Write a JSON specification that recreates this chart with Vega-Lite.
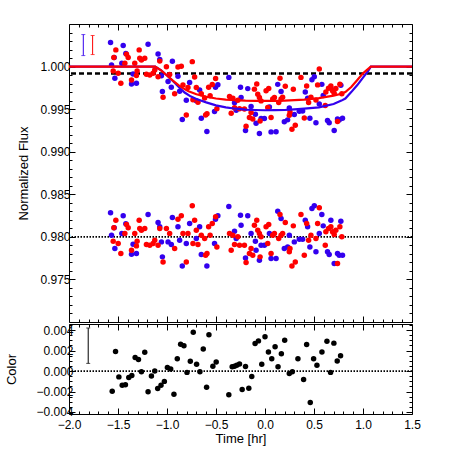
{
  "padding": {"left": 5, "top": 23, "right": 5, "bottom": 5},
  "spacing": 0,
  "config": {
    "view": {"stroke": "black", "strokeWidth": 1},
    "axis": {"grid": false, "domain": false, "tickColor": "black", "labelColor": "black", "titleColor": "black", "labelFont": "Liberation Sans", "titleFont": "Liberation Sans", "labelFontSize": 12, "titleFontSize": 13, "titleFontWeight": "normal", "tickWidth": 1, "labelFlush": false, "labelOverlap": false}
  },
  "datasets": {
    "blue": [
      {"t": -1.576, "f": 1.00282, "r": 0.98282}, {"t": -1.566, "f": 1.0002, "r": 0.9802}, {"t": -1.539, "f": 1.00106, "r": 0.98106}, {"t": -1.532, "f": 0.99863, "r": 0.97863},
      {"t": -1.461, "f": 1.00039, "r": 0.98039}, {"t": -1.447, "f": 1.00247, "r": 0.98247}, {"t": -1.42, "f": 1.00153, "r": 0.98153}, {"t": -1.362, "f": 0.99796, "r": 0.97796},
      {"t": -1.346, "f": 0.99914, "r": 0.97914}, {"t": -1.312, "f": 0.99804, "r": 0.97804}, {"t": -1.193, "f": 1.00263, "r": 0.98263}, {"t": -1.091, "f": 1.00147, "r": 0.98169},
      {"t": -1.074, "f": 1.00084, "r": 0.98118}, {"t": -1.057, "f": 0.99893, "r": 0.97941}, {"t": -1.047, "f": 0.99707, "r": 0.97765}, {"t": -0.989, "f": 0.99825, "r": 0.97941},
      {"t": -0.956, "f": 0.99757, "r": 0.9791}, {"t": -0.945, "f": 1.00063, "r": 0.98227}, {"t": -0.888, "f": 0.99887, "r": 0.98118}, {"t": -0.871, "f": 0.99711, "r": 0.97961},
      {"t": -0.844, "f": 0.99379, "r": 0.97659}, {"t": -0.803, "f": 0.99605, "r": 0.97922}, {"t": -0.769, "f": 0.99812, "r": 0.98157}, {"t": -0.701, "f": 0.996, "r": 0.9798},
      {"t": -0.667, "f": 0.99725, "r": 0.98118}, {"t": -0.65, "f": 0.99392, "r": 0.97792}, {"t": -0.593, "f": 0.99237, "r": 0.97659}, {"t": -0.515, "f": 0.99472, "r": 0.97922},
      {"t": -0.505, "f": 0.99758, "r": 0.98208}, {"t": -0.481, "f": 0.99787, "r": 0.98247}, {"t": -0.369, "f": 0.99873, "r": 0.98357}, {"t": -0.311, "f": 0.99576, "r": 0.98067},
      {"t": -0.294, "f": 0.99487, "r": 0.9798}, {"t": -0.25, "f": 0.99756, "r": 0.98255}, {"t": -0.244, "f": 0.99637, "r": 0.98137}, {"t": -0.199, "f": 0.99248, "r": 0.97753},
      {"t": -0.176, "f": 0.99741, "r": 0.98247}, {"t": -0.142, "f": 0.99532, "r": 0.98039}, {"t": -0.098, "f": 0.9944, "r": 0.97949}, {"t": -0.091, "f": 0.99334, "r": 0.97843},
      {"t": -0.057, "f": 0.99215, "r": 0.97726}, {"t": -0.04, "f": 0.9939, "r": 0.97902}, {"t": -0.006, "f": 0.99389, "r": 0.97902}, {"t": 0.045, "f": 0.99526, "r": 0.98039},
      {"t": 0.062, "f": 0.99233, "r": 0.97745}, {"t": 0.113, "f": 0.99234, "r": 0.97745}, {"t": 0.13, "f": 0.99791, "r": 0.98302}, {"t": 0.164, "f": 0.99706, "r": 0.98216},
      {"t": 0.197, "f": 0.99353, "r": 0.97863}, {"t": 0.231, "f": 0.99374, "r": 0.97882}, {"t": 0.248, "f": 0.99514, "r": 0.9802}, {"t": 0.299, "f": 0.99438, "r": 0.97941},
      {"t": 0.35, "f": 0.99474, "r": 0.97973}, {"t": 0.384, "f": 0.99477, "r": 0.97973}, {"t": 0.411, "f": 0.99702, "r": 0.98196}, {"t": 0.435, "f": 0.99627, "r": 0.98118},
      {"t": 0.458, "f": 0.99393, "r": 0.97882}, {"t": 0.479, "f": 0.99846, "r": 0.98333}, {"t": 0.503, "f": 0.99881, "r": 0.98365}, {"t": 0.52, "f": 0.99341, "r": 0.97824},
      {"t": 0.554, "f": 0.9956, "r": 0.98039}, {"t": 0.58, "f": 0.99791, "r": 0.98263}, {"t": 0.594, "f": 0.99661, "r": 0.98129}, {"t": 0.638, "f": 0.99367, "r": 0.97824},
      {"t": 0.655, "f": 0.9934, "r": 0.97792}, {"t": 0.672, "f": 0.99748, "r": 0.98196}, {"t": 0.706, "f": 0.99249, "r": 0.97686}, {"t": 0.74, "f": 0.99384, "r": 0.97804},
      {"t": 0.757, "f": 0.99372, "r": 0.97784}, {"t": 0.774, "f": 0.99781, "r": 0.98184}, {"t": 0.791, "f": 0.99392, "r": 0.97784}
    ],
    "red": [
      {"t": -1.549, "f": 0.99949, "r": 0.97949}, {"t": -1.542, "f": 1.00106, "r": 0.98106}, {"t": -1.522, "f": 1.00196, "r": 0.98196}, {"t": -1.498, "f": 0.99922, "r": 0.97922},
      {"t": -1.471, "f": 0.99804, "r": 0.97804}, {"t": -1.43, "f": 1.00039, "r": 0.98039}, {"t": -1.413, "f": 1.00145, "r": 0.98145}, {"t": -1.396, "f": 1.00106, "r": 0.98106},
      {"t": -1.362, "f": 0.99843, "r": 0.97843}, {"t": -1.329, "f": 1.00039, "r": 0.98039}, {"t": -1.312, "f": 0.99894, "r": 0.97894}, {"t": -1.305, "f": 0.99949, "r": 0.97949},
      {"t": -1.284, "f": 1.00196, "r": 0.98196}, {"t": -1.278, "f": 1.00098, "r": 0.98098}, {"t": -1.261, "f": 1.00078, "r": 0.98078}, {"t": -1.227, "f": 1.00098, "r": 0.98098},
      {"t": -1.21, "f": 0.9991, "r": 0.9791}, {"t": -1.176, "f": 0.99902, "r": 0.97902}, {"t": -1.142, "f": 0.99922, "r": 0.97922}, {"t": -1.125, "f": 0.99961, "r": 0.97961},
      {"t": -1.091, "f": 0.9988, "r": 0.97902}, {"t": -1.074, "f": 1.00064, "r": 0.98098}, {"t": -1.04, "f": 0.99641, "r": 0.97706}, {"t": -1.006, "f": 0.99999, "r": 0.98098},
      {"t": -0.973, "f": 0.99907, "r": 0.98039}, {"t": -0.922, "f": 0.99681, "r": 0.97863}, {"t": -0.888, "f": 0.99995, "r": 0.98208}, {"t": -0.854, "f": 1.00004, "r": 0.98247},
      {"t": -0.837, "f": 0.99785, "r": 0.98039}, {"t": -0.803, "f": 0.9943, "r": 0.97706}, {"t": -0.786, "f": 0.99753, "r": 0.98039}, {"t": -0.742, "f": 1.00058, "r": 0.98365},
      {"t": -0.735, "f": 0.99611, "r": 0.97922}, {"t": -0.718, "f": 0.99877, "r": 0.98196}, {"t": -0.701, "f": 0.99753, "r": 0.98078}, {"t": -0.684, "f": 0.9958, "r": 0.9791},
      {"t": -0.65, "f": 0.9968, "r": 0.9802}, {"t": -0.616, "f": 0.9963, "r": 0.9798}, {"t": -0.606, "f": 0.99431, "r": 0.97784}, {"t": -0.592, "f": 0.99447, "r": 0.97804},
      {"t": -0.575, "f": 0.99756, "r": 0.98118}, {"t": -0.56, "f": 0.99658, "r": 0.9802}, {"t": -0.538, "f": 0.99789, "r": 0.98157}, {"t": -0.504, "f": 0.99861, "r": 0.98235},
      {"t": -0.491, "f": 0.99506, "r": 0.97882}, {"t": -0.362, "f": 0.99648, "r": 0.98039}, {"t": -0.345, "f": 0.99451, "r": 0.97843}, {"t": -0.328, "f": 0.99627, "r": 0.9802},
      {"t": -0.311, "f": 0.99516, "r": 0.9791}, {"t": -0.277, "f": 0.99604, "r": 0.98}, {"t": -0.26, "f": 0.99505, "r": 0.97902}, {"t": -0.21, "f": 0.99502, "r": 0.97902},
      {"t": -0.193, "f": 0.99298, "r": 0.97698}, {"t": -0.159, "f": 0.99403, "r": 0.97804}, {"t": -0.142, "f": 0.99462, "r": 0.97863}, {"t": -0.125, "f": 0.99383, "r": 0.97784},
      {"t": -0.108, "f": 0.99735, "r": 0.98137}, {"t": -0.084, "f": 0.99794, "r": 0.98196}, {"t": -0.074, "f": 0.99676, "r": 0.98078}, {"t": -0.057, "f": 0.99636, "r": 0.98039},
      {"t": -0.05, "f": 0.99362, "r": 0.97765}, {"t": -0.04, "f": 0.99597, "r": 0.98}, {"t": 0.011, "f": 0.99715, "r": 0.98118}, {"t": 0.028, "f": 0.99519, "r": 0.97922},
      {"t": 0.038, "f": 0.99742, "r": 0.98145}, {"t": 0.062, "f": 0.99402, "r": 0.97804}, {"t": 0.079, "f": 0.99618, "r": 0.9802}, {"t": 0.096, "f": 0.99637, "r": 0.98039},
      {"t": 0.14, "f": 0.99579, "r": 0.9798}, {"t": 0.153, "f": 0.99862, "r": 0.98263}, {"t": 0.164, "f": 0.99619, "r": 0.9802}, {"t": 0.18, "f": 0.99639, "r": 0.98039},
      {"t": 0.207, "f": 0.99769, "r": 0.98169}, {"t": 0.248, "f": 0.99427, "r": 0.97824}, {"t": 0.255, "f": 0.99466, "r": 0.97863}, {"t": 0.275, "f": 0.99264, "r": 0.97659},
      {"t": 0.289, "f": 0.99734, "r": 0.98129}, {"t": 0.309, "f": 0.99312, "r": 0.97706}, {"t": 0.367, "f": 0.99873, "r": 0.98263}, {"t": 0.401, "f": 0.99396, "r": 0.97784},
      {"t": 0.425, "f": 0.99772, "r": 0.98157}, {"t": 0.445, "f": 0.99578, "r": 0.97961}, {"t": 0.469, "f": 0.9964, "r": 0.9802}, {"t": 0.52, "f": 0.99606, "r": 0.9798},
      {"t": 0.537, "f": 0.99785, "r": 0.98157}, {"t": 0.554, "f": 0.99971, "r": 0.98341}, {"t": 0.615, "f": 0.99543, "r": 0.97902}, {"t": 0.621, "f": 0.99701, "r": 0.98059},
      {"t": 0.648, "f": 0.99746, "r": 0.98098}, {"t": 0.672, "f": 0.99771, "r": 0.98118}, {"t": 0.689, "f": 0.99715, "r": 0.98059}, {"t": 0.706, "f": 0.99686, "r": 0.98027},
      {"t": 0.723, "f": 0.99742, "r": 0.98078}, {"t": 0.74, "f": 0.99354, "r": 0.97686}, {"t": 0.764, "f": 0.99793, "r": 0.98118}, {"t": 0.784, "f": 0.99681, "r": 0.98}
    ],
    "modelB": [
      {"t": -2.0, "f": 1.0}, {"t": -1.12, "f": 1.0}, {"t": -1.06, "f": 0.99955}, {"t": -1.0, "f": 0.99895}, {"t": -0.94, "f": 0.9983}, {"t": -0.88, "f": 0.9976},
      {"t": -0.82, "f": 0.99695}, {"t": -0.76, "f": 0.9965}, {"t": -0.7, "f": 0.9962}, {"t": -0.6, "f": 0.9958}, {"t": -0.5, "f": 0.99545}, {"t": -0.4, "f": 0.9952},
      {"t": -0.3, "f": 0.99505}, {"t": -0.2, "f": 0.99495}, {"t": -0.1, "f": 0.9949}, {"t": 0.0, "f": 0.99487}, {"t": 0.1, "f": 0.99488}, {"t": 0.2, "f": 0.9949},
      {"t": 0.3, "f": 0.99497}, {"t": 0.4, "f": 0.99505}, {"t": 0.55, "f": 0.9952}, {"t": 0.7, "f": 0.9956}, {"t": 0.78, "f": 0.996}, {"t": 0.82, "f": 0.99625},
      {"t": 0.88, "f": 0.997}, {"t": 0.94, "f": 0.9978}, {"t": 1.0, "f": 0.9987}, {"t": 1.05, "f": 0.99945}, {"t": 1.08, "f": 1.0}, {"t": 1.5, "f": 1.0}
    ],
    "modelR": [
      {"t": -2.0, "f": 1.0}, {"t": -1.12, "f": 1.0}, {"t": -1.06, "f": 0.99955}, {"t": -1.0, "f": 0.99895}, {"t": -0.94, "f": 0.99835}, {"t": -0.88, "f": 0.9978},
      {"t": -0.82, "f": 0.99735}, {"t": -0.78, "f": 0.9971}, {"t": -0.7, "f": 0.99675}, {"t": -0.6, "f": 0.99645}, {"t": -0.5, "f": 0.99625}, {"t": -0.4, "f": 0.99612},
      {"t": -0.3, "f": 0.99605}, {"t": -0.2, "f": 0.996}, {"t": -0.1, "f": 0.99598}, {"t": 0.0, "f": 0.99597}, {"t": 0.1, "f": 0.99598}, {"t": 0.2, "f": 0.996},
      {"t": 0.3, "f": 0.99605}, {"t": 0.4, "f": 0.99612}, {"t": 0.55, "f": 0.9963}, {"t": 0.7, "f": 0.99658}, {"t": 0.78, "f": 0.9968}, {"t": 0.82, "f": 0.997},
      {"t": 0.88, "f": 0.9976}, {"t": 0.94, "f": 0.9984}, {"t": 1.0, "f": 0.9992}, {"t": 1.05, "f": 0.9997}, {"t": 1.08, "f": 1.0}, {"t": 1.5, "f": 1.0}
    ],
    "errTop": [
      {"t": -1.854, "lo": 1.00129, "hi": 1.00376, "s": "blue"},
      {"t": -1.759, "lo": 1.00141, "hi": 1.00365, "s": "red"}
    ],
    "errBot": [
      {"t": -1.804, "lo": 0.00075, "hi": 0.00421}
    ],
    "refTop": [
      {"level": 0.9992, "kind": "baseline"}
    ],
    "refRes": [
      {"level": 0.98, "kind": "residual"}
    ],
    "refBot": [
      {"level": 0.0, "kind": "zero"}
    ],
    "color": [
      {"t": -1.559, "c": -0.00197}, {"t": -1.525, "c": 0.0019}, {"t": -1.491, "c": -0.00057}, {"t": -1.457, "c": -0.0014}, {"t": -1.424, "c": -0.00133},
      {"t": -1.39, "c": -0.00063}, {"t": -1.359, "c": -0.00044}, {"t": -1.325, "c": 0.00133}, {"t": -1.291, "c": 0.00114}, {"t": -1.261, "c": -0.00006},
      {"t": -1.227, "c": 0.00184}, {"t": -1.193, "c": -0.00203}, {"t": -1.159, "c": -0.00048}, {"t": -1.125, "c": 0.0}, {"t": -1.095, "c": -0.00171},
      {"t": -1.061, "c": -0.0014}, {"t": -1.027, "c": -0.00101}, {"t": -0.996, "c": 0.00035}, {"t": -0.962, "c": 0.00019}, {"t": -0.929, "c": -0.00228},
      {"t": -0.895, "c": 0.0012}, {"t": -0.861, "c": 0.00263}, {"t": -0.827, "c": 0.00247}, {"t": -0.796, "c": -0.00013}, {"t": -0.762, "c": 0.00095},
      {"t": -0.732, "c": 0.0038}, {"t": -0.698, "c": 0.00067}, {"t": -0.664, "c": -0.00006}, {"t": -0.63, "c": 0.00216}, {"t": -0.596, "c": -0.00158},
      {"t": -0.572, "c": 0.00355}, {"t": -0.532, "c": 0.00048}, {"t": -0.498, "c": 0.00089}, {"t": -0.369, "c": -0.00231}, {"t": -0.335, "c": 0.00041},
      {"t": -0.311, "c": 0.00048}, {"t": -0.288, "c": 0.00057}, {"t": -0.26, "c": 0.0007}, {"t": -0.233, "c": -0.00181}, {"t": -0.199, "c": 0.00044},
      {"t": -0.165, "c": -0.00168}, {"t": -0.135, "c": -0.00054}, {"t": -0.101, "c": 0.00269}, {"t": -0.067, "c": 0.00295}, {"t": -0.033, "c": 0.00067},
      {"t": 0.0, "c": 0.00336}, {"t": 0.035, "c": 0.00187}, {"t": 0.069, "c": 0.0012}, {"t": 0.103, "c": 0.00238}, {"t": 0.133, "c": 0.00041},
      {"t": 0.167, "c": 0.00168}, {"t": 0.201, "c": 0.00301}, {"t": 0.248, "c": -0.00025}, {"t": 0.279, "c": -0.00006}, {"t": 0.336, "c": 0.0012},
      {"t": 0.394, "c": -0.00082}, {"t": 0.425, "c": 0.0026}, {"t": 0.462, "c": -0.00307}, {"t": 0.496, "c": 0.0012}, {"t": 0.53, "c": 0.00057},
      {"t": 0.581, "c": 0.00187}, {"t": 0.632, "c": 0.00292}, {"t": 0.669, "c": -0.00013}, {"t": 0.703, "c": 0.00273}, {"t": 0.737, "c": 0.00098},
      {"t": 0.771, "c": 0.00149}
    ]
  },
  "vconcat": [
    {
      "width": 343,
      "height": 298,
      "resolve": {"axis": {"x": "independent", "y": "independent"}},
      "layer": [
        {
          "data": {"name": "refTop"},
          "mark": {"type": "rule", "color": "black", "strokeWidth": 2.5, "strokeDash": [5, 3]},
          "encoding": {
            "y": {"field": "level", "type": "quantitative", "scale": {"domain": [0.97, 1.005], "nice": false, "zero": false},
                  "axis": {"orient": "left", "values": [0.975, 0.98, 0.985, 0.99, 0.995, 1.0], "format": ".3f", "tickSize": -6, "labelPadding": 5, "title": "Normalized Flux", "titlePadding": 9}}
          }
        },
        {
          "data": {"name": "refRes"},
          "mark": {"type": "rule", "color": "black", "strokeWidth": 1.8, "strokeDash": [1.5, 1.5]},
          "encoding": {
            "y": {"field": "level", "type": "quantitative",
                  "axis": {"orient": "left", "values": [0.971, 0.972, 0.973, 0.974, 0.976, 0.977, 0.978, 0.979, 0.981, 0.982, 0.983, 0.984, 0.986, 0.987, 0.988, 0.989, 0.991, 0.992, 0.993, 0.994, 0.996, 0.997, 0.998, 0.999, 1.001, 1.002, 1.003, 1.004], "labels": false, "tickSize": -3, "title": null}}
          }
        },
        {
          "data": {"name": "blue"},
          "mark": {"type": "circle", "size": 30, "opacity": 1, "color": "#3300ee"},
          "encoding": {
            "x": {"field": "t", "type": "quantitative", "scale": {"domain": [-2, 1.5], "nice": false, "zero": false},
                  "axis": {"orient": "bottom", "values": [-2, -1.5, -1, -0.5, 0, 0.5, 1, 1.5], "labels": false, "tickSize": -6, "title": null}},
            "y": {"field": "f", "type": "quantitative",
                  "axis": {"orient": "right", "values": [0.97, 0.975, 0.98, 0.985, 0.99, 0.995, 1.0], "labels": false, "tickSize": -6, "title": null}}
          }
        },
        {
          "data": {"name": "blue"},
          "mark": {"type": "circle", "size": 30, "opacity": 1, "color": "#3300ee"},
          "encoding": {
            "x": {"field": "t", "type": "quantitative",
                  "axis": {"orient": "bottom", "values": [-1.9, -1.8, -1.7, -1.6, -1.4, -1.3, -1.2, -1.1, -0.9, -0.8, -0.7, -0.6, -0.4, -0.3, -0.2, -0.1, 0.1, 0.2, 0.3, 0.4, 0.6, 0.7, 0.8, 0.9, 1.1, 1.2, 1.3, 1.4], "labels": false, "tickSize": -3, "title": null}},
            "y": {"field": "r", "type": "quantitative",
                  "axis": {"orient": "right", "values": [0.971, 0.972, 0.973, 0.974, 0.976, 0.977, 0.978, 0.979, 0.981, 0.982, 0.983, 0.984, 0.986, 0.987, 0.988, 0.989, 0.991, 0.992, 0.993, 0.994, 0.996, 0.997, 0.998, 0.999, 1.001, 1.002, 1.003, 1.004], "labels": false, "tickSize": -3, "title": null}}
          }
        },
        {
          "data": {"name": "red"},
          "mark": {"type": "circle", "size": 30, "opacity": 1, "color": "#ff0000"},
          "encoding": {
            "x": {"field": "t", "type": "quantitative",
                  "axis": {"orient": "top", "values": [-2, -1.5, -1, -0.5, 0, 0.5, 1, 1.5], "labels": false, "tickSize": -6, "title": null}},
            "y": {"field": "f", "type": "quantitative", "axis": null}
          }
        },
        {
          "data": {"name": "red"},
          "mark": {"type": "circle", "size": 30, "opacity": 1, "color": "#ff0000"},
          "encoding": {
            "x": {"field": "t", "type": "quantitative",
                  "axis": {"orient": "top", "values": [-1.9, -1.8, -1.7, -1.6, -1.4, -1.3, -1.2, -1.1, -0.9, -0.8, -0.7, -0.6, -0.4, -0.3, -0.2, -0.1, 0.1, 0.2, 0.3, 0.4, 0.6, 0.7, 0.8, 0.9, 1.1, 1.2, 1.3, 1.4], "labels": false, "tickSize": -3, "title": null}},
            "y": {"field": "r", "type": "quantitative", "axis": null}
          }
        },
        {
          "data": {"name": "modelB"},
          "mark": {"type": "line", "color": "#3300ee", "strokeWidth": 2.2},
          "encoding": {
            "x": {"field": "t", "type": "quantitative", "axis": null},
            "y": {"field": "f", "type": "quantitative", "axis": null}
          }
        },
        {
          "data": {"name": "modelR"},
          "mark": {"type": "line", "color": "#ff0000", "strokeWidth": 2.2},
          "encoding": {
            "x": {"field": "t", "type": "quantitative", "axis": null},
            "y": {"field": "f", "type": "quantitative", "axis": null}
          }
        },
        {
          "data": {"name": "errTop"},
          "mark": {"type": "rule", "strokeWidth": 1},
          "encoding": {
            "x": {"field": "t", "type": "quantitative", "axis": null},
            "y": {"field": "lo", "type": "quantitative", "axis": null},
            "y2": {"field": "hi"},
            "color": {"field": "s", "type": "nominal", "scale": {"domain": ["blue", "red"], "range": ["#3300ee", "#ff0000"]}, "legend": null}
          }
        },
        {
          "data": {"name": "errTop"},
          "mark": {"type": "tick", "orient": "horizontal", "size": 4, "thickness": 1},
          "encoding": {
            "x": {"field": "t", "type": "quantitative", "axis": null},
            "y": {"field": "lo", "type": "quantitative", "axis": null},
            "color": {"field": "s", "type": "nominal", "legend": null}
          }
        },
        {
          "data": {"name": "errTop"},
          "mark": {"type": "tick", "orient": "horizontal", "size": 4, "thickness": 1},
          "encoding": {
            "x": {"field": "t", "type": "quantitative", "axis": null},
            "y": {"field": "hi", "type": "quantitative", "axis": null},
            "color": {"field": "s", "type": "nominal", "legend": null}
          }
        }
      ]
    },
    {
      "width": 343,
      "height": 90,
      "resolve": {"axis": {"x": "independent", "y": "independent"}},
      "layer": [
        {
          "data": {"name": "refBot"},
          "mark": {"type": "rule", "color": "black", "strokeWidth": 1.8, "strokeDash": [1.5, 1.5]},
          "encoding": {
            "y": {"field": "level", "type": "quantitative", "scale": {"domain": [-0.0042, 0.0046], "nice": false, "zero": false},
                  "axis": {"orient": "left", "values": [-0.004, -0.002, 0, 0.002, 0.004], "format": ".3f", "tickSize": -6, "labelPadding": 2, "title": "Color", "titlePadding": 17}}
          }
        },
        {
          "data": {"name": "color"},
          "transform": [{"filter": "datum.t < -0.5"}],
          "mark": {"type": "circle", "size": 30, "opacity": 1, "color": "black"},
          "encoding": {
            "x": {"field": "t", "type": "quantitative", "scale": {"domain": [-2, 1.5], "nice": false, "zero": false},
                  "axis": {"orient": "bottom", "values": [-2, -1.5, -1, -0.5, 0, 0.5, 1, 1.5], "format": ".1f", "tickSize": -6, "labelPadding": 11, "title": "Time [hr]", "titlePadding": 2}},
            "y": {"field": "c", "type": "quantitative",
                  "axis": {"orient": "left", "values": [-0.0035, -0.003, -0.0025, -0.0015, -0.001, -0.0005, 0.0005, 0.001, 0.0015, 0.0025, 0.003, 0.0035, 0.0045], "labels": false, "tickSize": -3, "title": null}}
          }
        },
        {
          "data": {"name": "color"},
          "transform": [{"filter": "datum.t >= -0.5"}],
          "mark": {"type": "circle", "size": 30, "opacity": 1, "color": "black"},
          "encoding": {
            "x": {"field": "t", "type": "quantitative",
                  "axis": {"orient": "bottom", "values": [-1.9, -1.8, -1.7, -1.6, -1.4, -1.3, -1.2, -1.1, -0.9, -0.8, -0.7, -0.6, -0.4, -0.3, -0.2, -0.1, 0.1, 0.2, 0.3, 0.4, 0.6, 0.7, 0.8, 0.9, 1.1, 1.2, 1.3, 1.4], "labels": false, "tickSize": -3, "title": null}},
            "y": {"field": "c", "type": "quantitative",
                  "axis": {"orient": "right", "values": [-0.004, -0.002, 0, 0.002, 0.004], "labels": false, "tickSize": -6, "title": null}}
          }
        },
        {
          "data": {"name": "errBot"},
          "mark": {"type": "rule", "color": "black", "strokeWidth": 1},
          "encoding": {
            "x": {"field": "t", "type": "quantitative",
                  "axis": {"orient": "top", "values": [-2, -1.5, -1, -0.5, 0, 0.5, 1, 1.5], "labels": false, "tickSize": -6, "title": null}},
            "y": {"field": "lo", "type": "quantitative",
                  "axis": {"orient": "right", "values": [-0.0035, -0.003, -0.0025, -0.0015, -0.001, -0.0005, 0.0005, 0.001, 0.0015, 0.0025, 0.003, 0.0035, 0.0045], "labels": false, "tickSize": -3, "title": null}},
            "y2": {"field": "hi"}
          }
        },
        {
          "data": {"name": "errBot"},
          "mark": {"type": "tick", "orient": "horizontal", "size": 4, "thickness": 1, "color": "black"},
          "encoding": {
            "x": {"field": "t", "type": "quantitative",
                  "axis": {"orient": "top", "values": [-1.9, -1.8, -1.7, -1.6, -1.4, -1.3, -1.2, -1.1, -0.9, -0.8, -0.7, -0.6, -0.4, -0.3, -0.2, -0.1, 0.1, 0.2, 0.3, 0.4, 0.6, 0.7, 0.8, 0.9, 1.1, 1.2, 1.3, 1.4], "labels": false, "tickSize": -3, "title": null}},
            "y": {"field": "lo", "type": "quantitative", "axis": null}
          }
        },
        {
          "data": {"name": "errBot"},
          "mark": {"type": "tick", "orient": "horizontal", "size": 4, "thickness": 1, "color": "black"},
          "encoding": {
            "x": {"field": "t", "type": "quantitative", "axis": null},
            "y": {"field": "hi", "type": "quantitative", "axis": null}
          }
        }
      ]
    }
  ]
}
